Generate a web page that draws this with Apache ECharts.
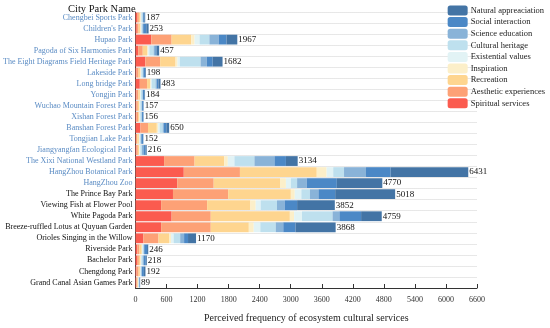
<!DOCTYPE html>
<html>
<head>
<meta charset="utf-8">
<script src="https://cdn.jsdelivr.net/npm/echarts@6/dist/echarts.min.js"></script>
<style>html,body{margin:0;padding:0;background:#fff}#c{width:550px;height:328px}</style>
</head>
<body>
<div id="c"></div>
<script>
var categories = ["Chengbei Sports Park","Children's Park","Hupao Park","Pagoda of Six Harmonies Park","The Eight Diagrams Field Heritage Park","Lakeside Park","Long bridge Park","Yongjin Park","Wuchao Mountain Forest Park","Xishan Forest Park","Banshan Forest Park","Tongjian Lake Park","Jiangyangfan Ecological Park","The Xixi National Westland Park","HangZhou Botanical Park","HangZhou Zoo","The Prince Bay Park","Viewing Fish at Flower Pool","White Pagoda Park","Breeze-ruffled Lotus at Quyuan Garden","Orioles Singing in the Willow","Riverside Park","Bachelor Park","Chengdong Park","Grand Canal Asian Games Park"];
var totals = [187,253,1967,457,1682,198,483,184,157,156,650,152,216,3134,6431,4770,5018,3852,4759,3868,1170,246,218,192,89];
var seriesNames = ["Spiritual services","Aesthetic experiences","Recreation","Inspiration","Existential values","Cultural heritage","Science education","Social interaction","Natural appreaciation"];
var spiritual   = [30,25,305,51,190,20,83,20,15,15,95,10,20,552,933,806,724,495,698,495,152,35,30,20,15];
var aesthetic   = [35,35,393,89,286,40,140,35,30,35,146,25,25,590,1085,705,1066,889,756,959,292,40,35,40,20];
var recreation  = [30,35,381,83,298,35,63,30,30,25,171,30,25,572,1485,1282,1212,837,1529,736,203,45,30,25,15];
var inspiration = [8,8,63,19,38,8,10,8,7,6,25,7,8,70,191,114,76,102,82,95,38,8,8,5,3];
var existential = [10,10,96,25,45,10,15,10,10,10,30,10,15,127,127,95,127,95,153,127,51,10,10,7,5];
var cultural    = [25,20,190,83,400,30,76,30,25,25,57,20,30,387,209,121,165,317,590,298,127,20,25,15,10];
var science     = [10,15,178,32,120,10,25,10,10,10,25,10,30,387,425,184,165,146,133,146,76,10,20,10,5];
var social      = [24,60,152,25,115,30,30,30,25,25,46,35,40,222,476,584,324,242,419,235,76,55,40,40,10];
var natural     = [15,45,209,50,190,15,41,11,5,5,55,5,23,227,1500,879,1159,729,399,777,155,23,20,30,6];
var xTicks = [0,600,1200,1800,2400,3000,3600,4200,4800,5400,6000,6600];

var values = [spiritual,aesthetic,recreation,inspiration,existential,cultural,science,social,natural];
var colors = ["#fb5b4f","#fda176","#fed58f","#fcefc9","#e2f3f5","#bee0ee","#89b3d8","#4b88c6","#4374a5"];
var font = "Liberation Serif";

var series = seriesNames.map(function(n,i){
  var s = {name:n,type:'bar',stack:'all',data:values[i],barWidth:9.8,itemStyle:{color:colors[i]}};
  if(i===seriesNames.length-1){
    s.label={show:true,position:'right',distance:1,color:'#111',fontFamily:font,fontSize:9,
      formatter:function(p){return totals[p.dataIndex];}};
  }
  return s;
});

var chart = echarts.init(document.getElementById('c'));
chart.setOption({
  animation:false,
  title:{text:'City Park Name',left:63,top:-1,textStyle:{fontFamily:font,fontSize:10.5,fontWeight:'normal',color:'#111'}},
  legend:{orient:'vertical',right:0,top:0.5,itemWidth:20,itemHeight:10,itemGap:1.6,
    data:seriesNames.slice().reverse(),
    textStyle:{fontFamily:font,fontSize:8.5,color:'#222',padding:[0,0,0,-2]}},
  grid:{left:130,right:73,top:12,bottom:35.5,containLabel:false},
  xAxis:{type:'value',min:0,max:6600,interval:600,
    name:'Perceived frequency of ecosystem cultural services',nameLocation:'middle',nameGap:25,
    nameTextStyle:{fontFamily:font,fontSize:10,color:'#222'},
    axisLine:{show:true,lineStyle:{color:'#333',width:1}},
    axisTick:{show:true,inside:true,length:4,lineStyle:{color:'#333'}},
    axisLabel:{fontFamily:font,fontSize:8,color:'#333',margin:8,
      formatter:function(v){return xTicks.indexOf(v)>=0?String(v):'';}},
    splitLine:{show:false}},
  yAxis:{type:'category',data:categories,inverse:true,
    axisLine:{show:true,lineStyle:{color:'#444',width:1}},
    axisTick:{show:false},
    splitLine:{show:true,lineStyle:{color:'#d0d0d0',type:'dotted',width:1}},
    axisLabel:{fontFamily:font,fontSize:8,margin:3,
      color:function(v,i){return i<16?'#5b8cc4':'#111';}}},
  series:series
});
</script>
</body>
</html>
